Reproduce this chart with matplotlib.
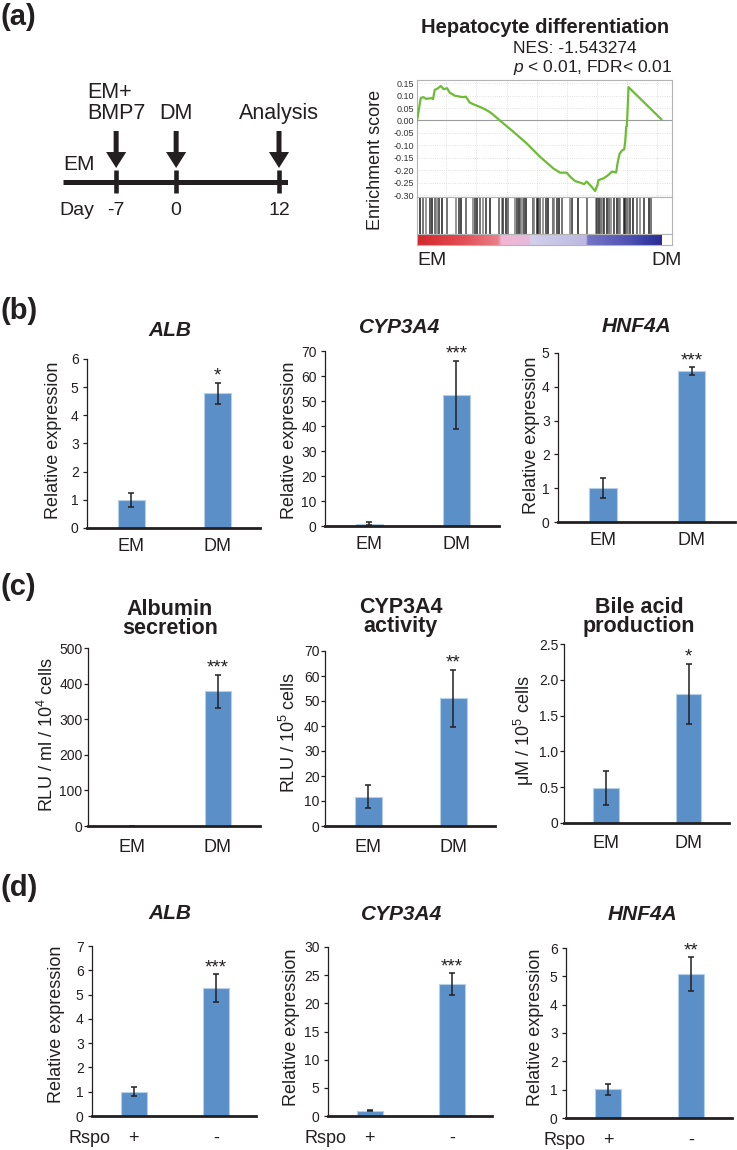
import numpy as np
import matplotlib
matplotlib.use("Agg")
import matplotlib.pyplot as plt
from matplotlib.colors import LinearSegmentedColormap

plt.rcParams.update({
    "font.family": ["Liberation Sans", "DejaVu Sans"],
    "mathtext.fontset": "custom",
    "mathtext.rm": "Liberation Sans",
    "mathtext.it": "Liberation Sans:italic",
    "mathtext.bf": "Liberation Sans:bold",
    "axes.unicode_minus": False,
    "text.color": "#231f20",
    "axes.edgecolor": "#231f20",
    "xtick.color": "#231f20",
    "ytick.color": "#231f20",
})

W, H = 737, 1150
INK = "#231f20"
BAR_BLUE = "#5b8fc8"
BAR_EDGE = "#b4cfea"
ES_GREEN = "#6cbd34"
FRAME_GREY = "#b4b4b4"

# ---- (a) protocol timeline
DAYS = [-7, 0, 12]
DAY_LABELS = ["-7", "0", "12"]
EVENTS = ["EM+\nBMP7", "DM", "Analysis"]

# ---- (a) GSEA running enrichment score
ES_RANK = [0, 3, 11, 18, 28, 43, 48, 53, 63, 71, 80, 90, 98, 113, 128, 140, 146,
           158, 173, 198, 213, 223, 248, 288, 328, 368, 408, 428, 448, 458, 473,
           488, 500, 508, 518, 533, 540, 543, 558, 573, 583, 596, 600, 606, 613,
           620, 623, 626, 628, 633, 731]
ES_SCORE = [0.000, 0.022, 0.090, 0.094, 0.087, 0.090, 0.086, 0.123, 0.130, 0.139,
            0.126, 0.130, 0.112, 0.100, 0.096, 0.094, 0.096, 0.072, 0.063, 0.049,
            0.038, 0.029, 0.000, -0.045, -0.092, -0.146, -0.193, -0.210, -0.210,
            -0.226, -0.244, -0.250, -0.256, -0.246, -0.260, -0.284, -0.260, -0.240,
            -0.233, -0.219, -0.206, -0.209, -0.172, -0.135, -0.121, -0.116, -0.085,
            -0.025, -0.022, 0.134, 0.005]
HIT_RANK = [8, 18, 28, 40, 46, 53, 60, 66, 76, 90, 118, 125, 133, 146, 168, 173,
            180, 190, 198, 206, 218, 246, 253, 258, 265, 271, 293, 298, 304, 308,
            315, 320, 326, 346, 350, 358, 363, 368, 376, 385, 393, 406, 410, 420,
            426, 433, 458, 463, 483, 508, 536, 540, 546, 550, 556, 561, 568, 573,
            580, 590, 598, 603, 608, 618, 623, 628, 631, 636, 646, 658, 666, 680,
            693, 700]
ES_TICKS = [0.15, 0.10, 0.05, 0.00, -0.05, -0.10, -0.15, -0.20, -0.25, -0.30]
RANK_AXIS_END = 763
GRID_RANKS = [88, 178, 268, 358, 448, 538, 628, 718]

# ---- (b) qPCR EM vs DM
EM_DM = ["EM", "DM"]
B_TITLES = ["ALB", "CYP3A4", "HNF4A"]
B_MEANS = [[1.0, 4.78], [1.0, 52.6], [1.0, 4.47]]
B_ERRS = [[0.25, 0.37], [0.5, 13.6], [0.30, 0.11]]
B_STARS = ["*", "***", "***"]
B_YMAX = [6, 70, 5]
B_YSTEP = [1, 10, 1]

# ---- (c) functional assays EM vs DM
C_TITLES = ["Albumin\nsecretion", "CYP3A4\nactivity", "Bile acid\nproduction"]
C_YLABELS = ["RLU / ml / 10$^4$ cells", "RLU / 10$^5$ cells", "\u03bcM / 10$^5$ cells"]
C_MEANS = [[0.0, 378.0], [11.7, 51.1], [0.49, 1.80]]
C_ERRS = [[0.0, 47.0], [4.6, 11.5], [0.24, 0.42]]
C_STARS = ["***", "**", "*"]
C_YMAX = [500, 70, 2.5]
C_YSTEP = [100, 10, 0.5]

# ---- (d) qPCR +/- Rspo
RSPO = ["+", "-"]
D_TITLES = ["ALB", "CYP3A4", "HNF4A"]
D_MEANS = [[1.0, 5.27], [0.95, 23.4], [1.01, 5.08]]
D_ERRS = [[0.18, 0.57], [0.15, 1.95], [0.20, 0.60]]
D_STARS = ["***", "***", "**"]
D_YMAX = [7, 30, 6]
D_YSTEP = [1, 5, 1]

# layout in pixels: (left, right, top, bottom)
B_BOX = [(87, 260, 359, 528), (325, 499, 351, 526), (558, 735, 353, 522)]
C_BOX = [(88, 260, 648, 826), (325, 495, 651, 826), (564, 729, 644, 823)]
D_BOX = [(92, 256, 946, 1116), (328, 492, 947, 1116), (566, 732, 948, 1118)]
B_TITLE_XY = [(170, 336), (400, 333), (637, 332)]
C_TITLE_XY = [(170, 615), (401, 613), (639, 613)]
D_TITLE_XY = [(170, 919), (402, 920), (642, 920)]
B_YLAB_XY = [(54, 440), (290, 440), (531, 435)]
C_YLAB_XY = [(47, 734), (289, 732), (524, 731)]
D_YLAB_XY = [(57, 1024), (291, 1027), (536, 1027)]


def px_axes(fig, left, right, top, bottom):
    return fig.add_axes([left / W, 1 - bottom / H, (right - left) / W, (bottom - top) / H])


def px_text(fig, x, y, s, **kw):
    return fig.text(x / W, 1 - y / H, s, **kw)


def bar_chart(fig, box, means, errs, ymax, ystep, stars, groups, xpad, ypad, decimals=False):
    ax = px_axes(fig, *box)
    x = np.arange(len(means))
    ax.bar(x, means, width=0.31, color=BAR_BLUE, edgecolor=BAR_EDGE, linewidth=0.8, zorder=2)
    ax.errorbar(x, means, yerr=errs, fmt="none", ecolor=INK, elinewidth=1.1,
                capsize=2.3, capthick=1.1, zorder=3)
    ax.annotate(stars, xy=(x[-1], means[-1] + errs[-1]), xytext=(0, 1.5),
                textcoords="offset points", ha="center", va="baseline", fontsize=13.5)
    ax.set_xlim(-0.51, 1.49)
    ax.set_ylim(0, ymax)
    ticks = np.arange(0, ymax + ystep / 2, ystep)
    ax.set_yticks(ticks)
    if decimals:
        ax.set_yticklabels(["0" if t == 0 else f"{t:.1f}" for t in ticks])
    else:
        ax.set_yticklabels([f"{t:g}" for t in ticks])
    ax.set_xticks(x)
    ax.set_xticklabels(groups, fontsize=13)
    ax.tick_params(axis="x", length=0, pad=xpad)
    ax.tick_params(axis="y", length=3, width=0.9, direction="out", labelsize=10, pad=ypad)
    for side in ("top", "right"):
        ax.spines[side].set_visible(False)
    ax.spines["left"].set_linewidth(0.9)
    ax.spines["bottom"].set_linewidth(2.0)
    return ax


fig = plt.figure(figsize=(W / 100, H / 100), dpi=100)

# panel letters
for letter, y in zip(["(a)", "(b)", "(c)", "(d)"], [17, 311, 587, 888]):
    px_text(fig, 1, y, letter, fontsize=21, fontweight="bold", ha="left", va="center")

# ---- (a) timeline schematic (x in days, y in pixels)
tl = px_axes(fig, 63, 288, 60, 230)
tl.set_xlim(-13.2, 13.05)
tl.set_ylim(230, 60)
tl.axis("off")
tl.axhline(181.5, color=INK, lw=3.6, solid_capstyle="butt")
tl.vlines(DAYS, 170, 193, color=INK, lw=3.3)
for d, ev in zip(DAYS, EVENTS):
    tl.annotate("", xy=(d, 168), xytext=(d, 131),
                arrowprops=dict(arrowstyle="simple,head_length=1.15,head_width=1.45,tail_width=0.36",
                                mutation_scale=10, color=INK, lw=0, shrinkA=0, shrinkB=0))
    lines = ev.split("\n")
    last = tl.text(d, 119, lines[-1], ha="center", va="baseline", fontsize=15.5)
    for j, line in enumerate(reversed(lines[:-1])):
        tl.annotate(line, xy=(0, 0), xycoords=last, xytext=(0, 21 * (j + 1)),
                    textcoords="offset pixels", ha="left", va="bottom", fontsize=15.5)
for d, lab in zip(DAYS, DAY_LABELS):
    tl.text(d, 215, lab, ha="center", va="baseline", fontsize=14)
tl.text(0.07, 170, "EM", transform=tl.get_yaxis_transform(), ha="center", va="baseline", fontsize=15)
tl.text(-0.018, 215, "Day", transform=tl.get_yaxis_transform(), ha="left", va="baseline", fontsize=14)

# ---- (a) GSEA enrichment plot
es = px_axes(fig, 417, 672, 80, 197)
es.plot(ES_RANK, ES_SCORE, color=ES_GREEN, lw=1.6, zorder=3)
es.axhline(0, color="#9a9a9a", lw=0.8, zorder=2)
es.set_xlim(0, RANK_AXIS_END)
es.set_ylim(-0.308, 0.163)
es.set_yticks(ES_TICKS)
es.set_yticklabels([f"{v:.2f}" for v in ES_TICKS])
es.set_xticks(GRID_RANKS)
es.set_xticklabels([])
es.tick_params(length=0, labelsize=6.5, pad=2, colors="#333333")
es.grid(True, color="#d8d8d8", lw=0.6, ls=":")
for sp in es.spines.values():
    sp.set_color(FRAME_GREY)
    sp.set_linewidth(0.8)

hits = px_axes(fig, 417, 672, 197, 234)
hit_colors = ["#1a1a1a", "#505050", "#7c7c7c", "#2e2e2e"]
hits.vlines(HIT_RANK, 0, 1, colors=[hit_colors[i % 4] for i in range(len(HIT_RANK))], lw=1.1)
hits.set_xlim(0, RANK_AXIS_END)
hits.set_ylim(0, 1)
hits.set_xticks([])
hits.set_yticks([])
for sp in hits.spines.values():
    sp.set_color(FRAME_GREY)
    sp.set_linewidth(0.8)

ranked_cmap = LinearSegmentedColormap.from_list("ranked", [
    (0.00, "#d3272c"), (0.18, "#e34b52"), (0.33, "#ea8088"),
    (0.345, "#f2b6d6"), (0.455, "#e7b9da"),
    (0.465, "#d2d0ec"), (0.69, "#bdb9e0"),
    (0.70, "#7474c6"), (0.88, "#4d4fb0"), (0.93, "#3840a6"), (1.00, "#2b2c94")])
cb = px_axes(fig, 417, 672, 234, 245)
cb.imshow(np.linspace(0, 1, 500)[None, :], cmap=ranked_cmap, aspect="auto",
          extent=(0, ES_RANK[-1], 0, 1))
cb.set_xlim(0, RANK_AXIS_END)
cb.set_ylim(0, 1)
cb.set_xticks([])
cb.set_yticks([])
for sp in cb.spines.values():
    sp.set_color(FRAME_GREY)
    sp.set_linewidth(0.8)

px_text(fig, 545, 33, "Hepatocyte differentiation", fontsize=14.5, fontweight="bold",
        ha="center", va="baseline")
px_text(fig, 513, 53, "NES: -1.543274", fontsize=12.5, ha="left", va="baseline")
px_text(fig, 513, 72, "$p$ < 0.01, FDR< 0.01", fontsize=12.5, ha="left", va="baseline")
px_text(fig, 375, 160, "Enrichment score", fontsize=13, rotation=90, ha="center", va="center")
px_text(fig, 417, 265, "EM", fontsize=14, ha="left", va="baseline")
px_text(fig, 682, 265, "DM", fontsize=14, ha="right", va="baseline")

# ---- (b)
for i in range(3):
    bar_chart(fig, B_BOX[i], B_MEANS[i], B_ERRS[i], B_YMAX[i], B_YSTEP[i], B_STARS[i],
              EM_DM, xpad=7.5, ypad=3)
    px_text(fig, *B_TITLE_XY[i], B_TITLES[i], fontsize=15, fontweight="bold",
            fontstyle="italic", ha="center", va="baseline")
    px_text(fig, *B_YLAB_XY[i], "Relative expression", fontsize=13, rotation=90,
            ha="center", va="center")

# ---- (c)
for i in range(3):
    bar_chart(fig, C_BOX[i], C_MEANS[i], C_ERRS[i], C_YMAX[i], C_YSTEP[i], C_STARS[i],
              EM_DM, xpad=9, ypad=1, decimals=(i == 2))
    tx, ty = C_TITLE_XY[i]
    for j, line in enumerate(C_TITLES[i].split("\n")):
        px_text(fig, tx, ty + 19 * j, line, fontsize=15.5, fontweight="bold",
                ha="center", va="baseline")
    px_text(fig, *C_YLAB_XY[i], C_YLABELS[i], fontsize=13, rotation=90,
            ha="center", va="center")

# ---- (d)
for i in range(3):
    ax = bar_chart(fig, D_BOX[i], D_MEANS[i], D_ERRS[i], D_YMAX[i], D_YSTEP[i], D_STARS[i],
                   RSPO, xpad=10, ypad=3)
    ax.annotate("Rspo", xy=(0, 0), xycoords=ax.get_xaxis_transform(), xytext=(-16.5, -19.5),
                textcoords="offset points", ha="right", va="baseline", fontsize=13)
    px_text(fig, *D_TITLE_XY[i], D_TITLES[i], fontsize=15, fontweight="bold",
            fontstyle="italic", ha="center", va="baseline")
    px_text(fig, *D_YLAB_XY[i], "Relative expression", fontsize=13, rotation=90,
            ha="center", va="center")

fig.savefig("out.png", dpi=100)
